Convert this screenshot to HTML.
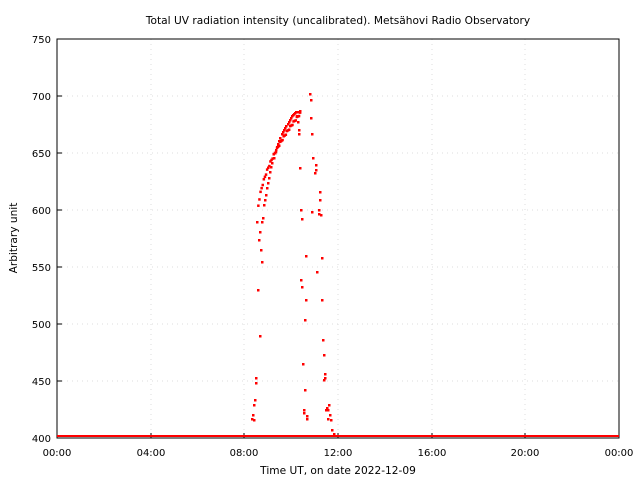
<!DOCTYPE html><html><head><style>body{margin:0;background:#fff}svg{display:block;font-family:"DejaVu Sans","Liberation Sans",sans-serif}</style></head><body>
<svg id="s" width="640" height="480" xmlns="http://www.w3.org/2000/svg">
<rect width="640" height="480" fill="#fff"/>
<g stroke="#ddd" stroke-width="1" stroke-dasharray="1,4">
<line x1="57" x2="619" y1="381" y2="381"/><line x1="57" x2="619" y1="324" y2="324"/><line x1="57" x2="619" y1="267" y2="267"/><line x1="57" x2="619" y1="210" y2="210"/><line x1="57" x2="619" y1="153" y2="153"/><line x1="57" x2="619" y1="96" y2="96"/>
<line y1="39" y2="438" x1="151" x2="151"/><line y1="39" y2="438" x1="244" x2="244"/><line y1="39" y2="438" x1="338" x2="338"/><line y1="39" y2="438" x1="432" x2="432"/><line y1="39" y2="438" x1="525" x2="525"/>
</g>
<rect x="57" y="39" width="562" height="399" fill="none" stroke="#000"/>
<g stroke="#000"><line x1="151" x2="151" y1="438" y2="433"/><line x1="244" x2="244" y1="438" y2="433"/><line x1="338" x2="338" y1="438" y2="433"/><line x1="432" x2="432" y1="438" y2="433"/><line x1="525" x2="525" y1="438" y2="433"/>
<line x1="57" x2="62" y1="381" y2="381"/><line x1="57" x2="62" y1="324" y2="324"/><line x1="57" x2="62" y1="267" y2="267"/><line x1="57" x2="62" y1="210" y2="210"/><line x1="57" x2="62" y1="153" y2="153"/><line x1="57" x2="62" y1="96" y2="96"/></g>
<g font-size="10" text-anchor="end"><text x="51" y="442">400</text><text x="51" y="385">450</text><text x="51" y="328">500</text><text x="51" y="271">550</text><text x="51" y="214">600</text><text x="51" y="157">650</text><text x="51" y="100">700</text><text x="51" y="43">750</text></g>
<g font-size="10" text-anchor="middle"><text x="57" y="456">00:00</text><text x="151" y="456">04:00</text><text x="244" y="456">08:00</text><text x="338" y="456">12:00</text><text x="432" y="456">16:00</text><text x="525" y="456">20:00</text><text x="619" y="456">00:00</text></g>
<g font-size="10.6" text-anchor="middle">
<text x="338" y="474">Time UT, on date 2022-12-09</text><text x="338" y="24">Total UV radiation intensity (uncalibrated). Metsähovi Radio Observatory</text>
<text transform="translate(17,238) rotate(-90)">Arbitrary unit</text></g>
<rect x="57" y="435" width="562" height="2" fill="#f00"/>
<g id="p" fill="#f00"></g>
</svg>
<script>
var P=[[252,419],[253,415],[254,420],[254,405],[255,400],[256,383],[256,378],[258,290],[260,336],[261,250],[262,262],[259,240],[260,232],[262,222],[263,218],[264,205],[265,200],[266,195],[267,188],[268,183],[269,178],[270,172],[271,167],[272,163],[274,158],[275,153],[276,150],[277,147],[278,144],[279,141],[280,138],[282,134],[283,132],[284,130],[285,128],[286,126],[288,124],[289,122],[290,120],[291,118],[292,116],[293,115],[294,114],[295,113],[296,112],[298,112],[300,111],[297,116],[298,122],[299,130],[299,134],[300,168],[301,210],[302,219],[301,280],[302,287],[303,364],[304,410],[304,413],[305,390],[305,320],[306,300],[306,256],[307,419],[307,416],[310,94],[311,100],[311,118],[312,134],[312,212],[313,158],[315,173],[316,170],[317,272],[316,165],[319,214],[319,210],[320,192],[320,200],[321,215],[322,258],[322,300],[323,340],[324,355],[324,380],[325,378],[325,374],[326,410],[327,408],[328,410],[328,419],[329,405],[330,415],[331,420],[332,430],[334,434]];
var g=document.getElementById('p'),h='';
P.forEach(function(q){h+='<rect x="'+(q[0]-1)+'" y="'+(q[1]-1)+'" width="2.5" height="2.5"/>';});
for(var i=0;i<40;i++){var x=256+i*1.1,y=Math.max(111,222-Math.sqrt(i/40)*111)+((i*7)%3-1);h+='<rect x="'+x+'" y="'+y+'" width="2.5" height="2.5"/>';}
g.innerHTML=h;
</script>
</body></html>
